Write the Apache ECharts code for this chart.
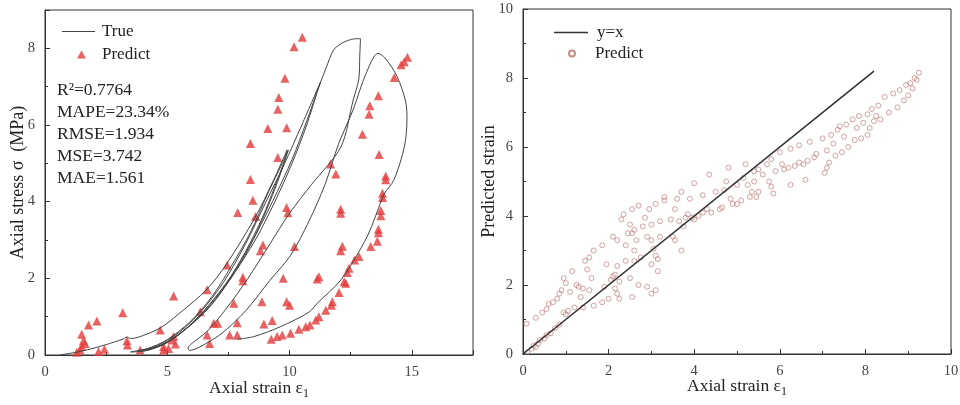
<!DOCTYPE html>
<html><head><meta charset="utf-8">
<script src="https://cdn.jsdelivr.net/npm/echarts@6/dist/echarts.min.js"></script>
<style>html,body{margin:0;padding:0;background:#fff}#c{width:960px;height:405px}</style>
</head><body><div id="c"></div>
<script>
// ---- Left chart: stress-strain (True curve) ----
const trueCurve = [
[0.6,0],[1.5,0.1],[2.5,0.27],[3.2,0.42],[3.35,0.47],[3.5,0.43],[3.8,0.46],[4.7,0.7],[5.5,1.09],[6.6,1.7],[7.45,2.4],[8.6,3.6],[9.3,4.5],[9.9,5.35],
[9.75,5.0],[9.4,4.4],[8.9,3.6],[8.2,2.7],[7.4,1.85],[6.5,1.15],[5.6,0.6],[4.8,0.27],[4.0,0.1],[3.5,0.08],
[4.2,0.17],[5.0,0.4],[5.9,0.85],[6.8,1.5],[7.6,2.3],[8.4,3.2],[9.1,4.2],[9.7,5.0],[9.95,5.35],
[9.8,5.05],[9.5,4.5],[9.0,3.7],[8.35,2.8],[7.6,2.0],[6.7,1.25],[5.8,0.7],[5.0,0.32],[4.2,0.12],[3.8,0.1],
[4.6,0.25],[5.5,0.6],[6.4,1.15],[7.3,1.9],[8.2,2.9],[9.0,3.95],[9.8,5.0],[10.5,6.0],[11.25,7.1],
[11.1,6.8],[10.7,6.0],[10.1,5.0],[9.4,4.0],[8.6,3.0],[7.7,2.1],[6.8,1.3],[5.9,0.75],[5.0,0.35],[4.3,0.15],[4.0,0.12],
[4.9,0.3],[5.8,0.7],[6.7,1.3],[7.6,2.05],[8.5,3.0],[9.3,4.0],[10.1,5.1],[10.7,6.1],[11.2,7.0],[11.5,7.5],[11.8,7.96],[12.1,8.12],[12.36,8.2],[12.7,8.25],[12.9,8.25],
[12.87,7.8],[12.83,7.2],[12.6,6.65],[12.1,5.43],[10.9,4.45],[10.0,3.7],[9.2,2.9],[8.3,2.0],[7.4,1.2],[6.6,0.6],[6.0,0.3],[5.85,0.18],[5.9,0.12],
[6.3,0.2],[7.2,0.55],[8.2,1.15],[9.2,1.95],[10.04,2.6],[10.8,3.5],[11.45,4.45],[12.0,5.5],[12.6,6.4],[13.1,7.3],[13.62,7.87],
[13.9,7.75],[14.4,7.26],[14.75,6.6],[14.8,6.15],[14.7,5.45],[14.27,4.57],[13.87,4.2],[13.18,3.1],[12.1,1.96],[11.13,1.35],[10.8,1.12],[9.63,0.74],[8.54,0.48],[7.86,0.41]
];
const predictLeft = [
[10.52,8.29],[10.18,8.04],[9.81,7.22],[9.56,6.72],[9.52,6.41],[9.11,5.91],[9.88,5.93],[8.40,5.52],[9.52,5.15],[8.40,4.58],
[8.50,4.04],[8.61,3.61],[7.88,3.72],[9.88,3.85],[9.93,3.71],[8.91,2.87],[8.81,2.72],[10.2,2.83],[7.45,2.35],[8.09,2.03],
[8.09,1.94],[9.74,2.0],[6.63,1.70],[7.72,1.35],[8.87,1.39],[9.88,1.39],[10.0,1.3],[5.26,1.54],[6.35,1.13],[3.18,1.10],
[6.90,0.83],[7.06,0.83],[7.86,0.84],[8.95,0.81],[9.29,0.90],[7.86,0.52],[7.55,0.52],[6.63,0.52],[6.73,0.30],
[4.71,0.65],[5.26,0.48],[5.19,0.39],[5.33,0.29],[5.05,0.17],[4.85,0.22],[4.85,0.13],[3.89,0.13],[3.35,0.37],[3.37,0.26],
[2.43,0.15],[2.19,0.09],[2.12,0.89],[1.78,0.78],[1.50,0.54],[1.57,0.37],[1.50,0.22],[1.43,0.13],[1.30,0.07],[1.64,0.30],
[14.82,7.77],[14.69,7.65],[14.56,7.57],[14.28,7.24],[13.63,6.76],[13.28,6.50],[13.25,6.28],[12.98,5.76],[13.66,5.23],[11.68,4.98],
[11.89,4.72],[13.93,4.67],[13.93,4.57],[13.8,4.22],[13.8,4.11],[12.09,3.80],[12.09,3.70],[13.73,3.77],[13.73,3.63],[13.63,3.28],
[13.63,3.19],[13.59,2.97],[13.32,2.83],[12.16,2.84],[12.09,2.72],[12.84,2.57],[12.66,2.48],[12.43,2.26],[12.36,2.15],[12.23,1.91],
[12.30,1.87],[12.02,1.63],[11.75,1.39],[11.71,1.30],[11.48,1.17],[11.2,1.0],[11.07,0.91],[10.83,0.78],[10.66,0.74],[10.38,0.67],
[10.04,0.57],[9.70,0.52],[9.49,0.48],[9.25,0.41],[11.13,1.98],[11.2,2.04]
];
const statLines = ['R²=0.7764','MAPE=23.34%','RMSE=1.934','MSE=3.742','MAE=1.561'];
const leftXTicks = [0,5,10,15];
const leftYTicks = [0,2,4,6,8];

// ---- Right chart: predicted vs axial strain ----
const identityLine = [[0,0],[8.2,8.2]];
const predictRight = [
[0.08,0.88],[0.1,0.05],[0.2,0.15],[0.25,0.25],[0.3,1.05],[0.3,0.2],[0.35,0.3],[0.4,0.4],[0.45,1.2],[0.5,0.45],[0.55,0.55],[0.55,1.3],
[0.6,1.45],[0.65,0.6],[0.7,1.5],[0.75,0.75],[0.8,1.6],[0.85,0.85],[0.85,1.75],[0.9,1.85],[0.95,1.2],[0.95,2.2],[1.0,1.15],[1.0,2.05],[1.05,1.25],
[1.1,1.8],[1.15,2.4],[1.2,1.35],[1.25,2.0],[1.3,1.95],[1.35,1.65],[1.4,1.9],[1.4,1.35],[1.45,2.7],[1.5,2.45],[1.55,2.8],[1.55,1.85],
[1.6,2.2],[1.65,3.0],[1.65,1.4],[1.85,1.5],[1.85,3.15],[1.9,1.95],[1.95,2.6],[2.0,1.6],[2.05,2.15],[2.1,2.25],
[2.1,3.4],[2.15,2.3],[2.15,1.9],[2.2,3.3],[2.2,2.55],[2.2,1.75],[2.25,1.6],[2.25,2.1],[2.3,3.9],[2.35,4.05],[2.4,2.7],[2.4,3.15],
[2.45,3.5],[2.5,3.75],[2.5,2.2],[2.55,3.5],[2.55,4.2],[2.55,1.65],[2.6,3.6],[2.6,3.0],[2.6,2.7],[2.65,3.3],[2.7,4.3],[2.7,2.0],
[2.75,2.8],[2.8,3.7],[2.85,3.95],[2.9,3.4],[2.9,1.95],[2.95,4.2],[3.0,3.75],[3.0,3.3],[3.0,2.6],[3.0,1.75],[3.05,3.05],[3.1,4.35],
[3.1,2.85],[3.1,1.85],[3.15,2.4],[3.15,2.75],[3.2,3.85],[3.2,3.4],
[3.3,4.55],[3.3,4.45],[3.45,3.9],[3.5,3.4],[3.55,3.3],[3.55,4.2],[3.6,4.5],[3.65,3.85],[3.7,4.7],[3.7,3.0],[3.75,3.7],[3.8,3.95],
[3.85,4.05],[3.9,4.5],[3.95,3.95],[4.0,4.95],[4.0,3.9],[4.1,4.0],[4.2,4.1],[4.2,4.6],[4.3,4.2],[4.35,5.2],[4.4,4.1],[4.5,4.7],
[4.6,4.2],[4.65,4.25],[4.7,4.75],[4.75,5.0],[4.8,5.4],[4.85,4.5],[4.9,4.35],[5.0,4.9],[5.0,4.35],
[5.1,4.45],[5.15,5.1],[5.2,5.5],[5.25,4.9],[5.3,4.55],[5.35,4.7],[5.4,5.0],[5.4,5.3],[5.45,4.55],[5.5,4.7],[5.5,5.35],[5.6,5.2],
[5.7,5.5],[5.75,5.0],[5.8,5.65],[5.8,4.85],[5.85,4.65],[5.9,5.3],[6.0,5.85],[6.05,5.5],[6.1,5.35],[6.2,5.4],[6.25,4.9],[6.25,5.95],
[6.35,5.45],[6.45,6.05],[6.45,5.55],[6.55,5.5],[6.6,5.05],[6.65,5.6],[6.7,6.15],[6.8,5.7],[6.85,5.8],
[7.0,6.25],[7.05,5.25],[7.1,5.4],[7.1,5.9],[7.15,5.55],[7.2,6.35],[7.25,6.1],[7.3,5.75],[7.35,6.5],[7.4,6.6],[7.45,5.85],[7.5,6.3],
[7.55,6.65],[7.6,6.0],[7.7,6.8],[7.75,6.2],[7.8,6.55],[7.85,6.9],[7.9,6.25],[7.95,6.7],[8.05,6.35],[8.05,6.95],[8.1,6.55],[8.15,7.1],
[8.2,6.75],[8.25,6.9],[8.3,7.2],[8.35,6.8],[8.45,7.45],[8.55,7.0],[8.65,7.55],[8.75,7.15],[8.8,7.65],[8.9,7.35],[8.95,7.8],[9.0,7.5],
[9.05,7.85],[9.1,7.7],[9.15,8.0],[9.2,7.95],[9.25,8.15]
];

const SERIF = '"Liberation Serif","Times New Roman",serif';
const axisCol = '#333';
const nameStyle = {fontFamily:SERIF,fontSize:17.5,color:'#222',
  rich:{sub:{fontFamily:SERIF,fontSize:12,color:'#222',verticalAlign:'bottom',padding:[0,0,-3,0]}}};
function mkAxis(o){
  return Object.assign({
    type:'value', nameLocation:'middle', nameTextStyle:nameStyle, nameMoveOverlap:false,
    axisLine:{show:true,lineStyle:{color:axisCol,width:1}},
    axisTick:{show:true,inside:true,length:5,lineStyle:{color:axisCol}},
    minorTick:{show:true,splitNumber:2,length:3,lineStyle:{color:axisCol}},
    splitLine:{show:false}
  },o);
}
const tickFont = {fontFamily:SERIF,fontSize:14.5,color:'#444'};
const legText = {fontFamily:SERIF,fontSize:17,color:'#222'};
const chart = echarts.init(document.getElementById('c'),null,{renderer:'canvas'});
chart.setOption({
  animation:false,
  backgroundColor:'#fff',
  grid:[
    {left:45,top:10,right:487,bottom:50,show:true,borderColor:axisCol,borderWidth:1,containLabel:false,outerBoundsMode:'none'},
    {left:523,top:9,right:9,bottom:51,show:true,borderColor:axisCol,borderWidth:1,containLabel:false,outerBoundsMode:'none'}
  ],
  xAxis:[
    mkAxis({gridIndex:0,min:0,max:17.5,interval:5,name:'Axial strain ε{sub|1}',nameGap:24,
      axisLabel:Object.assign({margin:10,showMaxLabel:false,formatter:v=>leftXTicks.includes(v)?String(v):''},tickFont)}),
    mkAxis({gridIndex:1,min:0,max:10,interval:2,name:'Axial strain ε{sub|1}',nameGap:23,
      axisLabel:Object.assign({margin:10},tickFont)})
  ],
  yAxis:[
    mkAxis({gridIndex:0,min:0,max:9,interval:2,name:'Axial stress σ  (MPa)',nameGap:18,
      nameTextStyle:Object.assign({},nameStyle,{fontSize:18}),
      axisLabel:Object.assign({margin:10,showMaxLabel:false,formatter:v=>leftYTicks.includes(v)?String(v):''},tickFont)}),
    mkAxis({gridIndex:1,min:0,max:10,interval:2,name:'Predicted strain',nameGap:25,
      nameTextStyle:Object.assign({},nameStyle,{fontSize:18}),
      axisLabel:Object.assign({margin:10},tickFont)})
  ],
  legend:[
    {left:57,top:18,itemWidth:33,itemHeight:1.2,icon:'rect',
     textStyle:Object.assign({padding:[0,0,0,2]},legText),data:['True']},
    {left:72,top:41,itemWidth:9,itemHeight:8,icon:'triangle',
     textStyle:Object.assign({padding:[0,0,0,11]},legText),data:['Predict']},
    {left:549,top:19,itemWidth:34,itemHeight:1.5,icon:'rect',
     textStyle:Object.assign({padding:[0,0,0,4]},legText),data:['y=x']},
    {left:563,top:40,itemWidth:6,itemHeight:6,icon:'circle',
     textStyle:Object.assign({padding:[0,0,0,15]},legText),formatter:n=>n.trim(),data:['Predict ']}
  ],
  graphic: statLines.map((t,i)=>({
    type:'text',left:57,top:81+i*22,
    style:{text:t,font:'17.5px '+SERIF,fill:'#222'}
  })),
  series:[
    {name:'True',type:'line',xAxisIndex:0,yAxisIndex:0,data:trueCurve,symbol:'none',smooth:0.3,
     lineStyle:{color:'#444',width:1},itemStyle:{color:'#444'}},
    {name:'Predict',type:'scatter',xAxisIndex:0,yAxisIndex:0,data:predictLeft,symbol:'triangle',symbolSize:9,
     itemStyle:{color:'#e33b3b'}},
    {name:'y=x',type:'line',xAxisIndex:1,yAxisIndex:1,data:identityLine,symbol:'none',
     lineStyle:{color:'#333',width:1.6},itemStyle:{color:'#333'}},
    {name:'Predict ',type:'scatter',xAxisIndex:1,yAxisIndex:1,data:predictRight,symbol:'circle',symbolSize:5,
     itemStyle:{color:'rgba(255,255,255,0)',borderColor:'#b8706c',borderWidth:0.8}}
  ]
});
</script></body></html>
